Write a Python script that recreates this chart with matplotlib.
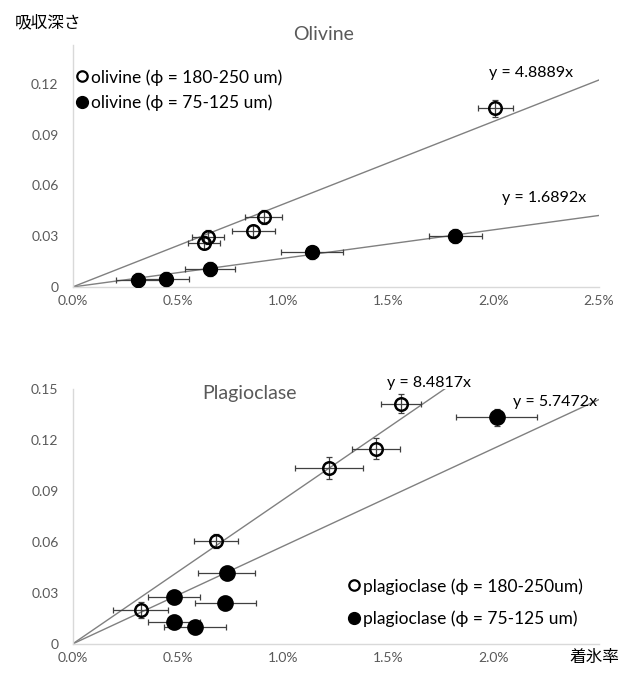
import numpy as np
import matplotlib.pyplot as plt
from matplotlib.ticker import PercentFormatter, FuncFormatter

plt.rcParams['font.family'] = ['Lato', 'DejaVu Sans']

# --- Olivine (x in %, y = absorption depth) ---
ol_big_x = [0.626, 0.645, 0.859, 0.909, 2.010]
ol_big_y = [0.0262, 0.0294, 0.0329, 0.0414, 0.1056]
ol_big_xerr = [0.076, 0.075, 0.103, 0.087, 0.085]
ol_big_yerr = [0.004, 0.004, 0.004, 0.004, 0.005]

ol_small_x = [0.312, 0.445, 0.653, 1.139, 1.820]
ol_small_y = [0.0041, 0.0046, 0.0106, 0.0205, 0.0301]
ol_small_xerr = [0.103, 0.109, 0.119, 0.149, 0.126]
ol_small_yerr = [0.004, 0.004, 0.004, 0.004, 0.004]

ol_slopes = [4.8889, 1.6892]

# --- Plagioclase ---
pl_big_x = [0.325, 0.681, 1.219, 1.443, 1.560]
pl_big_y = [0.0200, 0.0606, 0.1037, 0.1149, 0.1414]
pl_big_xerr = [0.131, 0.104, 0.163, 0.114, 0.095]
pl_big_yerr = [0.0046, 0.004, 0.0065, 0.006, 0.0057]

pl_small_x = [0.483, 0.732, 0.727, 0.483, 0.582, 2.017]
pl_small_y = [0.0275, 0.0416, 0.0240, 0.0131, 0.0098, 0.1335]
pl_small_xerr = [0.124, 0.136, 0.146, 0.123, 0.148, 0.192]
pl_small_yerr = [0.004, 0.004, 0.004, 0.004, 0.004, 0.005]

pl_slopes = [8.4817, 5.7472]

W, H = 626, 673
fig = plt.figure(figsize=(W / 100, H / 100), dpi=100)
GRAY = '#595959'


def px(x, y):
    return x / W, 1 - y / H


def setup(ax, ymax, xticks):
    ax.set_xlim(0, 0.025)
    ax.set_ylim(0, ymax)
    ax.set_xticks(xticks)
    ax.set_yticks(np.arange(0, ymax + 1e-9, 0.03))
    ax.xaxis.set_major_formatter(PercentFormatter(1.0, decimals=1))
    ax.yaxis.set_major_formatter(FuncFormatter(lambda v, p: '0' if abs(v) < 1e-9 else f'{v:.2f}'))
    for s in ['top', 'right']:
        ax.spines[s].set_visible(False)
    for s in ['left', 'bottom']:
        ax.spines[s].set_color('#d9d9d9')
        ax.spines[s].set_linewidth(1.0)
    ax.tick_params(length=0, colors=GRAY, labelsize=10)
    ax.tick_params(axis='x', pad=6)
    ax.tick_params(axis='y', pad=10)


def draw(ax, x, y, xerr, yerr, filled, ms):
    x = np.array(x) / 100
    xerr = np.array(xerr) / 100
    ax.errorbar(x, y, xerr=xerr, yerr=yerr, fmt='none', ecolor='#404040',
                elinewidth=0.9, capsize=2.5, capthick=0.9, zorder=3)
    if filled:
        ax.plot(x, y, 'o', ms=ms, mfc='black', mec='black', zorder=4)
    else:
        ax.plot(x, y, 'o', ms=ms - 1, mfc='none', mec='black', mew=1.8, zorder=4)


def trend(ax, k):
    xs = np.array([0, 0.025])
    ax.plot(xs, k * xs, color='#808080', lw=1.0, zorder=2)


leg_h = [plt.Line2D([], [], ls='none', marker='o', ms=7.5, mfc='none', mec='black', mew=1.6),
         plt.Line2D([], [], ls='none', marker='o', ms=8.5, mfc='black', mec='black')]

# ---------------- Olivine ----------------
ax1 = fig.add_axes([72.5 / W, 1 - 287 / H, 526 / W, 242 / H])
setup(ax1, 0.143, np.arange(0, 0.0251, 0.005))
for k in ol_slopes:
    trend(ax1, k)
draw(ax1, ol_big_x, ol_big_y, ol_big_xerr, ol_big_yerr, False, 10)
draw(ax1, ol_small_x, ol_small_y, ol_small_xerr, ol_small_yerr, True, 10)

fig.legend(leg_h, ['olivine (ϕ = 180-250 um)', 'olivine (ϕ = 75-125 um)'],
           loc='upper left', bbox_to_anchor=px(77, 69), frameon=False, fontsize=12.5,
           handlelength=0.6, handletextpad=0.2, labelspacing=0.5, borderpad=0, borderaxespad=0)

fig.text(*px(15, 23), '吸収深さ', family=['Noto Sans CJK JP', 'DejaVu Sans'], fontsize=12,
         ha='left', va='center')
fig.text(*px(324, 35), 'Olivine', color=GRAY, fontsize=14, ha='center', va='center')
fig.text(*px(531, 73), 'y = 4.8889x', fontsize=11.5, ha='center', va='center')
fig.text(*px(544, 198), 'y = 1.6892x', fontsize=11.5, ha='center', va='center')

# ---------------- Plagioclase ----------------
ax2 = fig.add_axes([72.5 / W, 1 - 644 / H, 526 / W, 255 / H])
setup(ax2, 0.15, np.arange(0, 0.0201, 0.005))
for k in pl_slopes:
    trend(ax2, k)
draw(ax2, pl_big_x, pl_big_y, pl_big_xerr, pl_big_yerr, False, 10)
draw(ax2, pl_small_x, pl_small_y, pl_small_xerr, pl_small_yerr, True, 11)

fig.legend(leg_h, ['plagioclase (ϕ = 180-250um)', 'plagioclase (ϕ = 75-125 um)'],
           loc='upper left', bbox_to_anchor=px(349, 578), frameon=False, fontsize=12.5,
           handlelength=0.6, handletextpad=0.2, labelspacing=0.9, borderpad=0, borderaxespad=0)

fig.text(*px(249, 393), 'Plagioclase', color=GRAY, fontsize=14, ha='center', va='center')
fig.text(*px(429, 383), 'y = 8.4817x', fontsize=11.5, ha='center', va='center')
fig.text(*px(555, 402), 'y = 5.7472x', fontsize=11.5, ha='center', va='center')
fig.text(*px(594, 657), '着氷率', family=['Noto Sans CJK JP', 'DejaVu Sans'], fontsize=12,
         ha='center', va='center')

fig.savefig('out.png', dpi=100)
